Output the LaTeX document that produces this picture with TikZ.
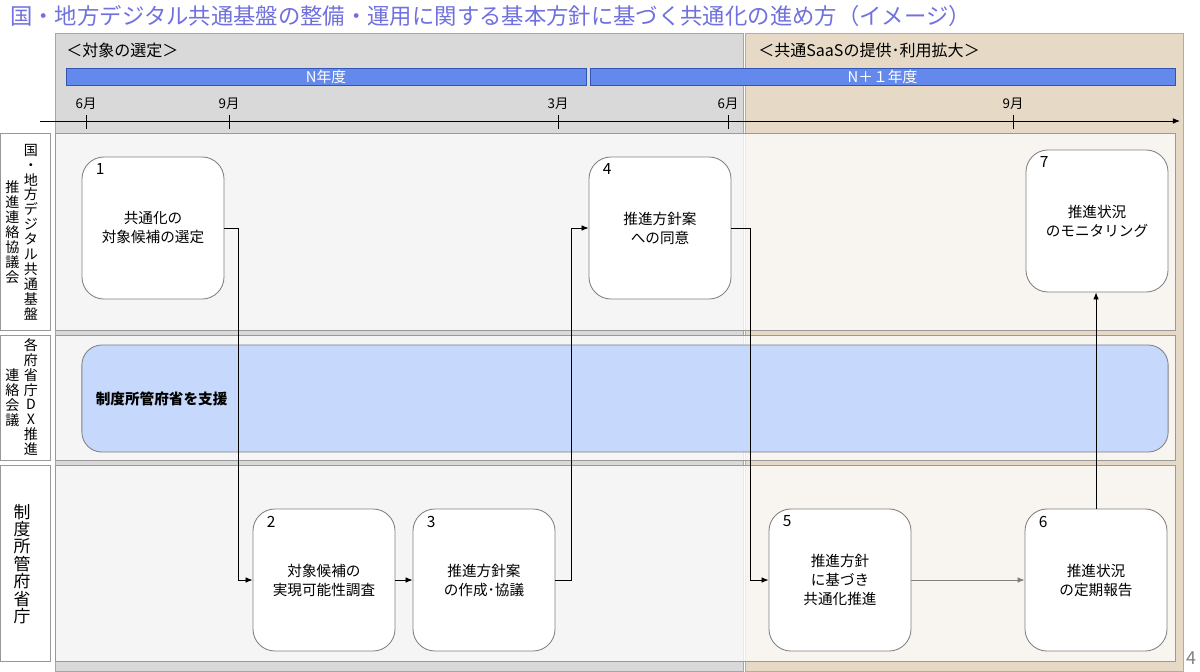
\documentclass[tikz,border=0pt]{standalone}
\usepackage{fontspec}
\setmainfont{Noto Sans CJK JP}
\usetikzlibrary{arrows.meta,positioning}
\definecolor{titleblue}{RGB}{112,112,222}
\definecolor{phasegray}{RGB}{217,217,217}
\definecolor{phasetan}{RGB}{230,218,198}
\definecolor{tanline}{RGB}{196,170,130}
\definecolor{yearblue}{RGB}{99,137,236}
\definecolor{yearline}{RGB}{50,85,180}
\definecolor{bandblue}{RGB}{198,216,252}
\definecolor{boxline}{RGB}{128,128,128}

\begin{document}
\begin{tikzpicture}[x=0.025cm,y=-0.025cm]
	% Styles
	\tikzset{
		task/.style={draw=boxline, line width=0.6pt, fill=white, rounded corners=0.55cm, minimum width=3.55cm, minimum height=3.55cm, inner sep=0pt, align=center, font=\fontsize{10.4}{13.5}\selectfont},
		tasknum/.style={anchor=north west, inner sep=0pt, font=\fontsize{11}{12}\selectfont},
		lanehead/.style={draw=boxline!80, fill=white},
		lanebody/.style={draw=boxline!80, fill=white, fill opacity=0.75},
		tate/.style={align=center, inner sep=0pt, font=\fontsize{10}{10.6}\selectfont},
		flow/.style={-{Latex[length=5pt,width=4pt]}, line width=0.6pt},
		year/.style={draw=yearline, fill=yearblue, text=white, minimum height=0.425cm, inner sep=0pt, font=\fontsize{10.5}{12}\selectfont},
		month/.style={inner sep=0pt, font=\fontsize{9.5}{10}\selectfont},
		phase/.style={anchor=west, inner sep=0pt, font=\fontsize{11.4}{13}\selectfont}
	}
	\useasboundingbox (0,0) rectangle (1200,671);
	
	% Title
	\node[anchor=west, inner sep=0pt, text=titleblue, font=\fontsize{15.9}{18}\selectfont] (title) at (10,16) {国・地方デジタル共通基盤の整備・運用に関する基本方針に基づく共通化の進め方（イメージ）};
	
	% Phase panels
	\draw[draw=boxline!70, fill=phasegray] (55,33) rectangle (743,671);
	\draw[draw=tanline, fill=phasetan] (745,33) rectangle (1183,671);
	\node[phase] (phase1) at (66,50) {＜対象の選定＞};
	\node[phase] (phase2) at (758,50) {＜共通SaaSの提供･利用拡大＞};
	
	% Fiscal years
	\node[year, minimum width=13cm] (yearN) at (326,76.5) {N年度};
	\node[year, minimum width=14.625cm] (yearN1) at (882.5,76.5) {N＋１年度};
	
	% Time axis
	\draw[-{Latex[length=5pt,width=4pt]}, line width=0.6pt] (40,121) -- (1180,121);
	\foreach \x/\m in {86/6, 229/9, 558/3, 728/6, 1013/9} {
		\draw[line width=0.6pt] (\x,115) -- (\x,129);
		\node[month] (m\x) at (\x,104) {{\m}月};
	}
	
	% Lanes
	\draw[lanehead] (0,133) rectangle (50,330);
	\draw[lanehead] (0,335) rectangle (50,460);
	\draw[lanehead] (0,465) rectangle (50,661);
	\draw[lanebody] (55,133) rectangle (1175,330);
	\draw[lanebody] (55,335) rectangle (1175,460);
	\draw[lanebody] (55,465) rectangle (1175,661);
	
	\node[tate] (lab1a) at (31,232) {国\\・\\地\\方\\デ\\ジ\\タ\\ル\\共\\通\\基\\盤};
	\node[tate] (lab1b) at (12.5,232) {推\\進\\連\\絡\\協\\議\\会};
	\node[tate] (lab2a) at (31,397) {各\\府\\省\\庁\\D\\X\\推\\進};
	\node[tate] (lab2b) at (12.5,398) {連\\絡\\会\\議};
	\node[tate, font=\fontsize{12}{12.4}\selectfont] (lab3) at (22,564) {制\\度\\所\\管\\府\\省\\庁};
	
	% Support band
	\node[draw=boxline, line width=0.6pt, fill=bandblue, rounded corners=0.5cm, minimum width=27.15cm, minimum height=2.675cm, text width=26.45cm, inner xsep=0.35cm, align=left, font=\bfseries\fontsize{10.4}{12}\selectfont] (support) at (625,398.5) {制度所管府省を支援};
	
	% Tasks
	\node[task] (t1) at (153,228) {共通化の\\対象候補の選定};
	\node[task] (t2) at (324,580) {対象候補の\\実現可能性調査};
	\node[task] (t3) at (484,580) {推進方針案\\の作成･協議};
	\node[task] (t4) at (660,228) {推進方針案\\への同意};
	\node[task] (t5) at (840,580) {推進方針\\に基づき\\共通化推進};
	\node[task] (t6) at (1096,580) {推進状況\\の定期報告};
	\node[task] (t7) at (1097,221) {推進状況\\のモニタリング};
	\foreach \i in {1,...,7} {
		\node[tasknum] (n\i) at ([shift={(14,7)}]t\i.north west) {\i};
	}
	
	% Flow
	\draw[flow] (t1.east) -- ++(14,0) |- (t2.west);
	\draw[flow] (t2) -- (t3);
	\draw[flow] (t3.east) -- ++(16,0) |- (t4.west);
	\draw[flow] (t4.east) -- ++(19,0) |- (t5.west);
	\draw[flow, color=gray] (t5) -- (t6);
	\draw[flow] (t6.north) -- (t6.north |- t7.south);
	
	% Page number
	\node[inner sep=0pt, text=gray, font=\fontsize{12.7}{14}\selectfont] (page) at (1191,658) {4};
\end{tikzpicture}
\end{document}
